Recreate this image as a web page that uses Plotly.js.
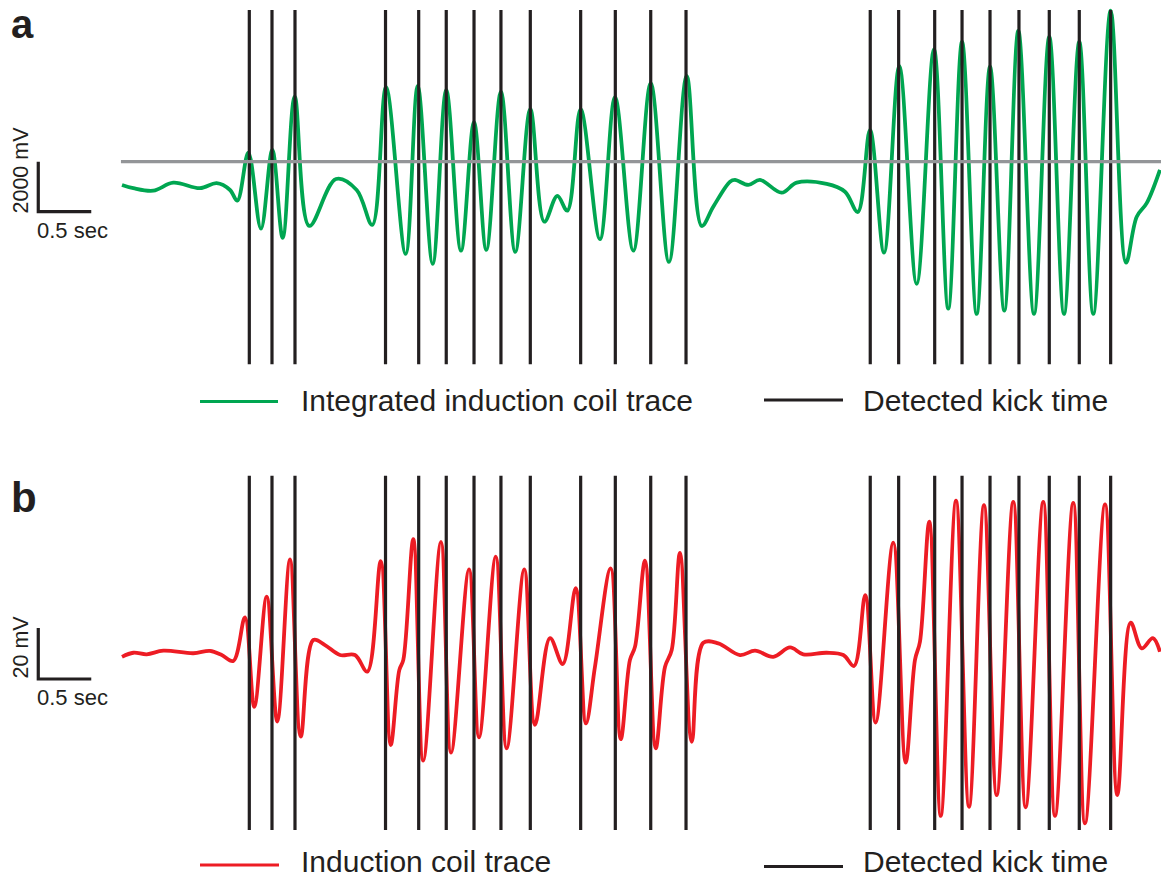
<!DOCTYPE html>
<html>
<head>
<meta charset="utf-8">
<script src="https://cdn.plot.ly/plotly-3.0.1.min.js"></script>
<style>html,body{margin:0;padding:0;background:#fff}#chart{width:1161px;height:880px}</style>
</head>
<body>
<div id="chart"></div>
<script>
// ---- Data (seconds, mV) ----
const kickTimes = [1.201, 1.415, 1.632, 2.486, 2.799, 3.059, 3.321, 3.575, 3.852, 4.327, 4.654, 4.988, 5.321,
  7.059, 7.327, 7.667, 7.925, 8.189, 8.462, 8.748, 9.031, 9.327];

const integTime = [0, 0.107, 0.295, 0.484, 0.736, 0.893, 1.019, 1.088, 1.192, 1.311, 1.418, 1.516, 1.629, 1.767,
  2.019, 2.214, 2.361, 2.491, 2.676, 2.790, 2.931, 3.059, 3.198, 3.321, 3.437, 3.575, 3.710, 3.852, 3.984,
  4.107, 4.201, 4.327, 4.509, 4.651, 4.824, 4.988, 5.160, 5.327, 5.469, 5.578, 5.736, 5.783, 5.909, 6.019,
  6.223, 6.365, 6.648, 6.821, 6.941, 7.057, 7.189, 7.333, 7.497, 7.660, 7.795, 7.925, 8.063, 8.189, 8.324,
  8.456, 8.604, 8.748, 8.887, 9.031, 9.163, 9.327, 9.472, 9.573, 9.667, 9.792];
const integMV = [70, -60, -160, 160, -60, 140, -130, -560, 1360, -1680, 1470, -2050, 3600, -1570,
  310, -130, -1530, 3980, -2690, 4030, -3090, 3870, -2560, 2580, -2530, 3800, -2610, 3100, -1400,
  -370, -960, 3100, -2100, 3580, -2560, 4140, -3010, 4430, -1570, -800, 200, 270, 70, 270,
  -240, 160, 110, -200, -1010, 2270, -2640, 4830, -3890, 5500, -4880, 5800, -5090, 4800, -4960,
  6240, -5090, 6000, -5090, 5800, -5090, 7040, -3040, -1200, -660, 670];

const coilTime = [0, 0.107, 0.233, 0.390, 0.673, 0.830, 0.941, 1.050, 1.160, 1.248, 1.365, 1.465, 1.585, 1.686,
  1.805, 1.915, 2.057, 2.198, 2.314, 2.441, 2.535, 2.616, 2.654, 2.748, 2.842, 3.009, 3.104, 3.274, 3.368,
  3.526, 3.629, 3.795, 3.896, 4.038, 4.158, 4.280, 4.377, 4.462, 4.610, 4.705, 4.792, 4.840, 4.934, 5.035,
  5.123, 5.186, 5.264, 5.375, 5.484, 5.625, 5.830, 5.972, 6.144, 6.302, 6.427, 6.648, 6.805, 6.906, 7.012,
  7.110, 7.276, 7.393, 7.481, 7.528, 7.616, 7.724, 7.868, 7.991, 8.132, 8.252, 8.408, 8.525, 8.691, 8.802,
  8.974, 9.085, 9.274, 9.390, 9.516, 9.620, 9.725, 9.792];
const coilMV = [-1.3, 0.3, -0.3, 1.1, 0.1, 1.0, -0.6, -2.9, 14.2, -20.9, 22.3, -26.7, 36.9, -32.6,
  5.3, 3.3, -0.6, -0.6, -7.1, 36.2, -35.9, -6.5, -2.5, 44.8, -42.0, 43.8, -38.9, 33.0, -32.9,
  38.0, -37.2, 33.0, -28.0, 6.0, -4.1, 25.6, -27.4, -5.2, 33.4, -33.6, -2.5, 2.7, 36.4, -37.2,
  -5.2, 1.4, 39.5, -34.6, 4.2, 4.0, -0.6, 1.1, -1.3, 2.4, -0.3, 0.3, -0.6, -4.9, 22.9,
  -27.1, 43.5, -42.8, -2.5, 4.6, 51.7, -63.7, 59.9, -60.1, 58.2, -55.5, 59.5, -60.3, 59.5, -63.7,
  59.1, -66.6, 58.5, -55.5, 12.1, 2.0, 6.0, 0.7];

const thresholdMV = 1000;
const traceEnd = 9.802;
const kickRangeA = [-7100, 7070];
const kickRangeB = [-69.2, 69.7];
const scaleBarSec = 0.5;
const scaleBarA_mV = 2000;
const scaleBarB_mV = 20;
const scaleBarStart = -0.79;

const legendA = ["Integrated induction coil trace", "Detected kick time"];
const legendB = ["Induction coil trace", "Detected kick time"];
const scaleLabelsA = ["2000 mV", "0.5 sec"];
const scaleLabelsB = ["20 mV", "0.5 sec"];
const panelLabels = ["a", "b"];

// ---- Styles ----
const GREEN = "#00a651", RED = "#ed1c24", BLACK = "#231f20", GRAY = "#939598";
const W = 1161, H = 880;
const FONT = "Liberation Sans, Arial, sans-serif";

function kickTrace(range, yaxis) {
  const x = [], y = [];
  kickTimes.forEach(t => { x.push(t, t, null); y.push(range[0], range[1], null); });
  return {x, y, yaxis, mode: "lines", line: {color: BLACK, width: 3.2}, hoverinfo: "skip", showlegend: false};
}
function scaleBar(mv, yaxis) {
  const x0 = scaleBarStart, x1 = scaleBarStart + scaleBarSec;
  return {x: [x0, x0, x1], y: [mv / 2, -mv / 2, -mv / 2], yaxis, mode: "lines",
    line: {color: BLACK, width: 3.2}, hoverinfo: "skip", showlegend: false};
}

const traces = [
  {x: integTime, y: integMV, yaxis: "y", mode: "lines", line: {color: GREEN, width: 3.8, shape: "spline", smoothing: 1}, showlegend: false},
  kickTrace(kickRangeA, "y"),
  {x: [-0.01, traceEnd], y: [thresholdMV, thresholdMV], yaxis: "y", mode: "lines", line: {color: GRAY, width: 3.2}, showlegend: false},
  scaleBar(scaleBarA_mV, "y"),
  {x: coilTime, y: coilMV, yaxis: "y2", mode: "lines", line: {color: RED, width: 3.8, shape: "spline", smoothing: 1}, showlegend: false},
  kickTrace(kickRangeB, "y2"),
  scaleBar(scaleBarB_mV, "y2")
];

const px = v => v / W, py = v => 1 - v / H;

function txt(text, x, y, size, opts) {
  return Object.assign({text, xref: "paper", yref: "paper", x: px(x), y: py(y), showarrow: false,
    xanchor: "left", yanchor: "middle", font: {family: FONT, size, color: BLACK}}, opts || {});
}
function seg(x0, x1, y, color) {
  return {type: "line", xref: "paper", yref: "paper", x0: px(x0), x1: px(x1), y0: py(y), y1: py(y),
    line: {color, width: 3.2}};
}

const annotations = [
  txt("<b>" + panelLabels[0] + "</b>", 9, 0, 40, {yanchor: "top"}),
  txt("<b>" + panelLabels[1] + "</b>", 9, 497, 42),
  txt(scaleLabelsA[0], 20.5, 170, 21.5, {textangle: -90, xanchor: "center"}),
  txt(scaleLabelsA[1], 35, 230, 22),
  txt(scaleLabelsB[0], 20.5, 647, 21.5, {textangle: -90, xanchor: "center"}),
  txt(scaleLabelsB[1], 35, 697, 22),
  txt(legendA[0], 299, 400, 30),
  txt(legendA[1], 861, 400, 30),
  txt(legendB[0], 299, 880, 30, {yanchor: "bottom"}),
  txt(legendB[1], 861, 880, 30, {yanchor: "bottom"})
];
const shapes = [
  seg(200, 278, 401.5, GREEN),
  seg(764, 843, 400, BLACK),
  seg(200, 279, 865, RED),
  seg(764, 843, 866.5, BLACK)
];

const axisOff = {visible: false, showgrid: false, zeroline: false, fixedrange: true};
const layout = {
  width: W, height: H,
  margin: {l: 0, r: 0, t: 0, b: 0},
  paper_bgcolor: "#fff", plot_bgcolor: "#fff",
  showlegend: false,
  xaxis: Object.assign({range: [-1.151, 9.802], domain: [0, 1]}, axisOff),
  yaxis: Object.assign({range: [-10132, 7468], domain: [0.5, 1]}, axisOff),
  yaxis2: Object.assign({range: [-88.82, 83.73], domain: [0, 0.5], anchor: "x"}, axisOff),
  annotations, shapes
};

Plotly.newPlot("chart", traces, layout, {displayModeBar: false, staticPlot: true});
</script>
</body>
</html>
